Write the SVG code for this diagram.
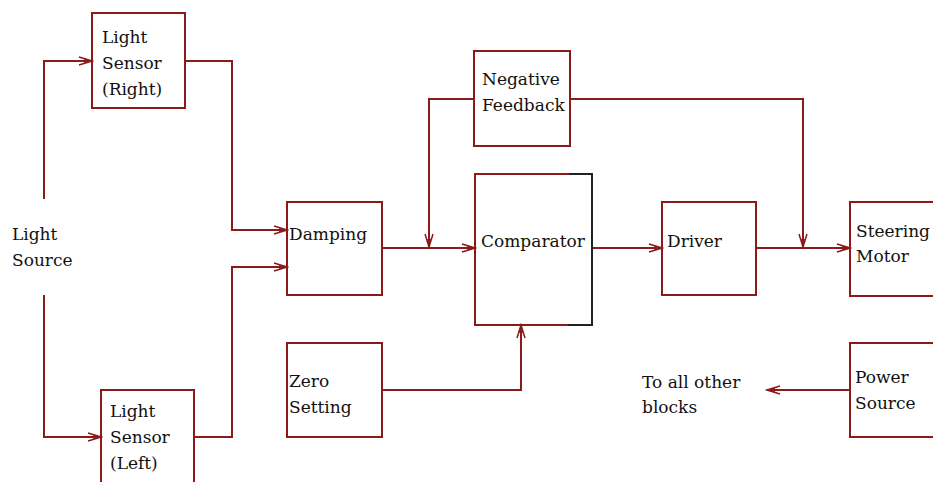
<svg xmlns="http://www.w3.org/2000/svg" width="933" height="482" viewBox="0 0 933 482">
<style>
.box{fill:none;stroke:#8b1a1a;stroke-width:2}
.ln{fill:none;stroke:#8b1a1a;stroke-width:2}
.blk{fill:none;stroke:#222;stroke-width:2}
text{font-family:"DejaVu Serif","Liberation Serif",serif;font-size:17px;fill:#111}
</style>
<defs>
<marker id="arr" markerUnits="userSpaceOnUse" viewBox="-14 -6 16 12" refX="0" refY="0" markerWidth="16" markerHeight="12" orient="auto">
<path d="M-13,-4 L0,0 L-13,4" fill="none" stroke="#8b1a1a" stroke-width="1.5"/>
<path d="M-8,-2 L0,0 L-8,2 Z" fill="#8b1a1a"/>
</marker>
</defs>
<rect width="933" height="482" fill="#fff"/>
<g id="connectors">
<path class="ln" d="M44,199 V61 H92" marker-end="url(#arr)"/>
<path class="ln" d="M44,295 V437 H101" marker-end="url(#arr)"/>
<path class="ln" d="M185,61 H232 V230 H287" marker-end="url(#arr)"/>
<path class="ln" d="M194,437 H232 V267 H287" marker-end="url(#arr)"/>
<path class="ln" d="M382,248 H475" marker-end="url(#arr)"/>
<path class="ln" d="M474,99 H429 V247" marker-end="url(#arr)"/>
<path class="ln" d="M592,248 H662" marker-end="url(#arr)"/>
<path class="ln" d="M756,248 H850" marker-end="url(#arr)"/>
<path class="ln" d="M570,99 H803 V247" marker-end="url(#arr)"/>
<path class="ln" d="M382,390 H521 V325" marker-end="url(#arr)"/>
<path class="ln" d="M850,390 H767" marker-end="url(#arr)"/>
</g>
<g id="light-source">
<text x="12" y="240">Light</text>
<text x="12" y="266">Source</text>
</g>
<g id="light-sensor-right">
<rect class="box" x="92" y="13" width="93" height="95"/>
<text x="102" y="43">Light</text>
<text x="102" y="69">Sensor</text>
<text x="102" y="95">(Right)</text>
</g>
<g id="light-sensor-left">
<rect class="box" x="101" y="390" width="93" height="100"/>
<text x="110" y="417">Light</text>
<text x="110" y="443">Sensor</text>
<text x="110" y="469">(Left)</text>
</g>
<g id="damping">
<rect class="box" x="287" y="202" width="95" height="93"/>
<text x="289" y="240">Damping</text>
</g>
<g id="zero-setting">
<rect class="box" x="287" y="343" width="95" height="94"/>
<text x="289" y="387">Zero</text>
<text x="289" y="413">Setting</text>
</g>
<g id="negative-feedback">
<rect class="box" x="474" y="51" width="96" height="95"/>
<text x="482" y="85">Negative</text>
<text x="482" y="111">Feedback</text>
</g>
<g id="comparator">
<path class="box" d="M569,174 H475 V325 H568"/>
<path class="blk" d="M569,174 H592 V325 H568"/>
<text x="481" y="247">Comparator</text>
</g>
<g id="driver">
<rect class="box" x="662" y="202" width="94" height="93"/>
<text x="667" y="247">Driver</text>
</g>
<g id="steering-motor">
<rect class="box" x="850" y="202" width="100" height="94"/>
<text x="856" y="237">Steering</text>
<text x="856" y="262">Motor</text>
</g>
<g id="power-source">
<rect class="box" x="850" y="343" width="100" height="94"/>
<text x="855" y="383">Power</text>
<text x="855" y="409">Source</text>
</g>
<g id="to-all-other-blocks">
<text x="642" y="388">To all other</text>
<text x="642" y="413">blocks</text>
</g>
</svg>
